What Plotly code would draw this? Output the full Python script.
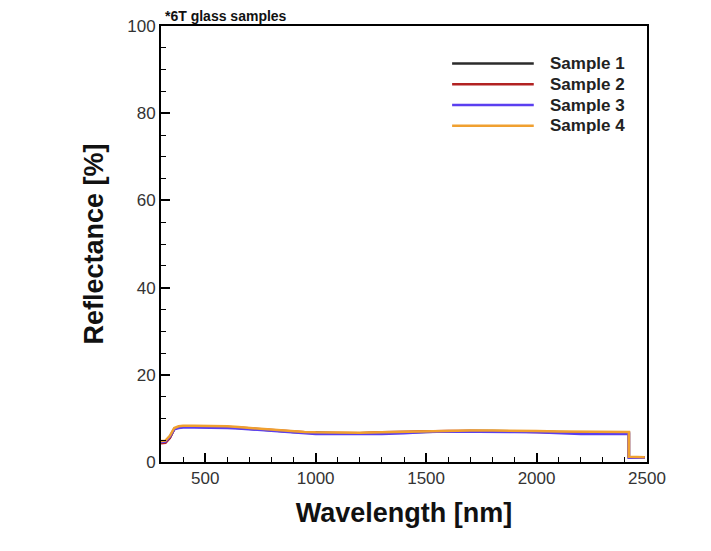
import plotly.graph_objects as go

wavelength = [300, 320, 340, 360, 380, 400, 450, 500, 550, 600, 650, 700, 750, 800, 850, 900,
              950, 1000, 1100, 1200, 1300, 1400, 1500, 1600, 1700, 1800, 1900, 2000, 2100, 2200,
              2300, 2400, 2418, 2418, 2450, 2490]

sample1 = [4.4, 4.5, 5.6, 7.6, 8.0, 8.1, 8.1, 8.1, 8.0, 8.0, 7.8, 7.6, 7.4, 7.2, 7.0, 6.9,
           6.8, 6.7, 6.6, 6.6, 6.7, 6.8, 7.0, 7.1, 7.1, 7.1, 7.0, 6.9, 6.8, 6.7, 6.7, 6.7, 6.7,
           1.1, 1.1, 1.1]
sample2 = [4.3, 4.4, 5.5, 7.6, 8.0, 8.1, 8.1, 8.1, 8.0, 8.0, 7.9, 7.7, 7.5, 7.3, 7.1, 6.9,
           6.8, 6.7, 6.6, 6.6, 6.8, 6.9, 7.1, 7.1, 7.1, 7.1, 7.0, 6.9, 6.8, 6.7, 6.7, 6.7, 6.7,
           1.1, 1.1, 1.1]
sample3 = [4.6, 4.7, 5.8, 7.5, 7.8, 7.9, 7.9, 7.9, 7.8, 7.8, 7.7, 7.5, 7.3, 7.1, 6.9, 6.7,
           6.5, 6.4, 6.4, 6.4, 6.4, 6.6, 6.9, 7.0, 7.0, 7.0, 6.9, 6.8, 6.6, 6.4, 6.4, 6.4, 6.4,
           1.0, 1.0, 1.0]
sample4 = [4.8, 4.9, 6.0, 7.8, 8.2, 8.3, 8.3, 8.3, 8.2, 8.2, 8.0, 7.8, 7.6, 7.4, 7.2, 7.0,
           6.9, 6.8, 6.7, 6.7, 6.8, 6.9, 7.1, 7.2, 7.2, 7.2, 7.2, 7.1, 7.0, 7.0, 6.9, 6.9, 6.9,
           1.2, 1.1, 1.1]

names = ["Sample 1", "Sample 2", "Sample 3", "Sample 4"]
colors = ["#2b2b2b", "#b22222", "#5a3ff0", "#f0a030"]
values = [sample1, sample2, sample3, sample4]

x_ticks = [500, 1000, 1500, 2000, 2500]
y_ticks = [0, 20, 40, 60, 80, 100]

FONT = "Liberation Sans, Arial, sans-serif"

fig = go.Figure()
for name, vals, color in zip(names, values, colors):
    fig.add_trace(go.Scatter(x=wavelength, y=vals, mode="lines", name=name,
                             showlegend=False, line=dict(color=color, width=2.5)))

axis_common = dict(showline=True, linecolor="black", linewidth=2, mirror=True,
                   showgrid=False, zeroline=False, ticks="inside", tickcolor="black",
                   tickwidth=2, ticklen=9, tickfont=dict(family=FONT, size=17, color="#333"))

fig.update_xaxes(range=[300, 2500], tickvals=x_ticks, ticktext=[str(v) for v in x_ticks],
                 minor=dict(dtick=100, tick0=0, ticks="inside", ticklen=5, tickwidth=1.3,
                            tickcolor="black"),
                 title=dict(text="<b>Wavelength [nm]</b>", standoff=16,
                            font=dict(family=FONT, size=27, color="#111")),
                 **axis_common)
fig.update_yaxes(range=[0, 100], tickvals=y_ticks, ticktext=[str(v) for v in y_ticks],
                 minor=dict(dtick=5, tick0=0, ticks="inside", ticklen=5, tickwidth=1.3,
                            tickcolor="black"),
                 title=dict(text="<b>Reflectance [%]</b>", standoff=16,
                            font=dict(family=FONT, size=27, color="#111")),
                 **axis_common)

fig.add_annotation(text="<b>*6T glass samples</b>", xref="paper", yref="paper",
                   x=0.004, y=1.0, xanchor="left", yanchor="bottom", showarrow=False,
                   font=dict(family=FONT, size=14, color="#111"))

# legend drawn as key lines + labels in the upper right of the plot
leg_x0, leg_x1, leg_tx = 0.599, 0.767, 0.796
leg_y0, leg_dy = 0.914, 0.0476
for i, (name, color) in enumerate(zip(names, colors)):
    yy = leg_y0 - i * leg_dy
    fig.add_shape(type="line", xref="paper", yref="paper", x0=leg_x0, x1=leg_x1,
                  y0=yy, y1=yy, line=dict(color=color, width=2.5))
    fig.add_annotation(text="<b>" + name + "</b>", xref="paper", yref="paper",
                       x=leg_tx, y=yy, xanchor="left", yanchor="middle", showarrow=False,
                       font=dict(family=FONT, size=17, color="#222"))

fig.update_layout(
    width=711, height=551,
    margin=dict(l=153, r=72, t=9, b=97),
    plot_bgcolor="white", paper_bgcolor="white",
    showlegend=False,
)

fig.write_html("out.html")
